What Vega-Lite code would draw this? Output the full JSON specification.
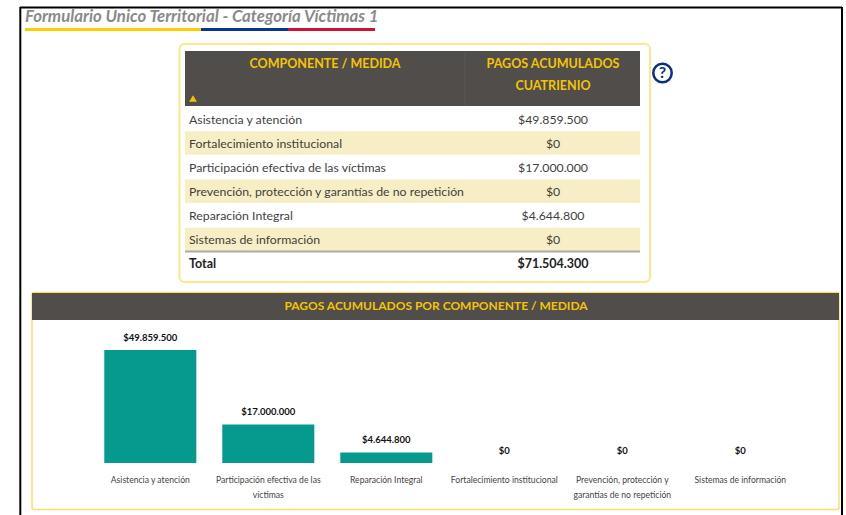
{
"$schema":"https://vega.github.io/schema/vega-lite/v6.json",
"width":846,"height":515,"padding":0,
"autosize":{"type":"fit","contains":"padding"},
"background":"white",
"data":{"name":"marco","values":[{"pieza":"marco"}]},
"datasets":{
"componentes":[
{"componente":"Asistencia y atención","pagos":49859500},
{"componente":"Fortalecimiento institucional","pagos":0},
{"componente":"Participación efectiva de las víctimas","pagos":17000000},
{"componente":"Prevención, protección y garantías de no repetición","pagos":0},
{"componente":"Reparación Integral","pagos":4644800},
{"componente":"Sistemas de información","pagos":0}],
"total":[{"componente":"Total","pagos":71504300}]
},
"config":{
"view":{"stroke":null},
"axisY":{"disable":true},
"axisQuantitative":{"disable":true},
"font":"Lato",
"text":{"font":"Lato"},
"locale":{"number":{"decimal":",","thousands":".","grouping":[3],"currency":["$",""]}}
},
"resolve":{"scale":{"x":"independent","y":"independent"},"axis":{"x":"independent","y":"independent"}},
"layer":[
{"mark":{"type":"text","align":"left","baseline":"middle","fontSize":16.8,"fontStyle":"italic","fontWeight":"bold","color":"#8a8a8a"},
 "encoding":{"text":{"datum":"Formulario Único Territorial - Categoría Víctimas 1"},"x":{"datum":25,"type":"quantitative","scale":{"domain":[0,846],"range":[0,846]}},"y":{"datum":17,"type":"quantitative","scale":{"domain":[0,515],"range":[0,515]}}}},
{"mark":{"type":"rect","fill":"white"},
 "encoding":{"x":{"datum":21,"type":"quantitative","scale":{"domain":[0,846],"range":[0,846]}},"x2":{"datum":841},"y":{"datum":0,"type":"quantitative","scale":{"domain":[0,515],"range":[0,515]}},"y2":{"datum":7.5}}},
{"mark":{"type":"rule","color":"#000000","strokeWidth":2},
 "encoding":{"x":{"datum":20,"type":"quantitative","scale":{"domain":[0,846],"range":[0,846]}},"x2":{"datum":842},"y":{"datum":7.5,"type":"quantitative","scale":{"domain":[0,515],"range":[0,515]}}}},
{"mark":{"type":"rule","color":"#000000","strokeWidth":2},
 "encoding":{"x":{"datum":20.3,"type":"quantitative","scale":{"domain":[0,846],"range":[0,846]}},"y":{"datum":7,"type":"quantitative","scale":{"domain":[0,515],"range":[0,515]}},"y2":{"datum":515}}},
{"mark":{"type":"rule","color":"#000000","strokeWidth":2},
 "encoding":{"x":{"datum":842,"type":"quantitative","scale":{"domain":[0,846],"range":[0,846]}},"y":{"datum":7,"type":"quantitative","scale":{"domain":[0,515],"range":[0,515]}},"y2":{"datum":515}}},
{"mark":{"type":"rect","fill":"#ffcd00"},
 "encoding":{"x":{"datum":25,"type":"quantitative","scale":{"domain":[0,846],"range":[0,846]}},"x2":{"datum":201},"y":{"datum":28,"type":"quantitative","scale":{"domain":[0,515],"range":[0,515]}},"y2":{"datum":31}}},
{"mark":{"type":"rect","fill":"#003893"},
 "encoding":{"x":{"datum":201,"type":"quantitative","scale":{"domain":[0,846],"range":[0,846]}},"x2":{"datum":288},"y":{"datum":28,"type":"quantitative","scale":{"domain":[0,515],"range":[0,515]}},"y2":{"datum":31}}},
{"mark":{"type":"rect","fill":"#ce1138"},
 "encoding":{"x":{"datum":288,"type":"quantitative","scale":{"domain":[0,846],"range":[0,846]}},"x2":{"datum":375},"y":{"datum":28,"type":"quantitative","scale":{"domain":[0,515],"range":[0,515]}},"y2":{"datum":31}}},
{"mark":{"type":"rect","fill":"white","stroke":"#ffe68c","strokeWidth":2,"cornerRadius":5},
 "encoding":{"x":{"datum":179.5,"type":"quantitative","scale":{"domain":[0,846],"range":[0,846]}},"x2":{"datum":650},"y":{"datum":44,"type":"quantitative","scale":{"domain":[0,515],"range":[0,515]}},"y2":{"datum":282}}},
{"mark":{"type":"rect","fill":"#504d4b"},
 "encoding":{"x":{"datum":185,"type":"quantitative","scale":{"domain":[0,846],"range":[0,846]}},"x2":{"datum":640},"y":{"datum":51,"type":"quantitative","scale":{"domain":[0,515],"range":[0,515]}},"y2":{"datum":106}}},
{"mark":{"type":"rule","color":"#5c5957","strokeWidth":1},
 "encoding":{"x":{"datum":465,"type":"quantitative","scale":{"domain":[0,846],"range":[0,846]}},"y":{"datum":51,"type":"quantitative","scale":{"domain":[0,515],"range":[0,515]}},"y2":{"datum":106}}},
{"mark":{"type":"text","align":"center","baseline":"middle","fontSize":12.5,"fontWeight":"bold","color":"#f5c400"},
 "encoding":{"text":{"datum":"COMPONENTE / MEDIDA"},"x":{"datum":325,"type":"quantitative","scale":{"domain":[0,846],"range":[0,846]}},"y":{"datum":63.5,"type":"quantitative","scale":{"domain":[0,515],"range":[0,515]}}}},
{"mark":{"type":"text","align":"center","baseline":"middle","fontSize":12.5,"fontWeight":"bold","color":"#f5c400"},
 "encoding":{"text":{"datum":"PAGOS ACUMULADOS"},"x":{"datum":553,"type":"quantitative","scale":{"domain":[0,846],"range":[0,846]}},"y":{"datum":63.5,"type":"quantitative","scale":{"domain":[0,515],"range":[0,515]}}}},
{"mark":{"type":"text","align":"center","baseline":"middle","fontSize":12.5,"fontWeight":"bold","color":"#f5c400"},
 "encoding":{"text":{"datum":"CUATRIENIO"},"x":{"datum":553,"type":"quantitative","scale":{"domain":[0,846],"range":[0,846]}},"y":{"datum":85.5,"type":"quantitative","scale":{"domain":[0,515],"range":[0,515]}}}},
{"mark":{"type":"point","shape":"triangle-up","filled":true,"size":60,"color":"#f5c400","opacity":1},
 "encoding":{"x":{"datum":193,"type":"quantitative","scale":{"domain":[0,846],"range":[0,846]}},"y":{"datum":98.5,"type":"quantitative","scale":{"domain":[0,515],"range":[0,515]}}}},
{"mark":{"type":"point","shape":"circle","filled":false,"size":340,"color":"#0b2f7f","strokeWidth":2.5,"opacity":1},
 "encoding":{"x":{"datum":662.5,"type":"quantitative","scale":{"domain":[0,846],"range":[0,846]}},"y":{"datum":73,"type":"quantitative","scale":{"domain":[0,515],"range":[0,515]}}}},
{"mark":{"type":"text","align":"center","baseline":"middle","fontSize":16,"fontWeight":"bold","color":"#0b2f7f"},
 "encoding":{"text":{"datum":"?"},"x":{"datum":662.5,"type":"quantitative","scale":{"domain":[0,846],"range":[0,846]}},"y":{"datum":73,"type":"quantitative","scale":{"domain":[0,515],"range":[0,515]}}}},
{"data":{"name":"componentes"},
 "transform":[{"filter":{"field":"componente","oneOf":["Fortalecimiento institucional","Prevención, protección y garantías de no repetición","Sistemas de información"]}}],
 "mark":{"type":"rect","fill":"#f8eec6"},
 "encoding":{"x":{"datum":185,"type":"quantitative","scale":{"domain":[0,846],"range":[0,846]}},"x2":{"datum":640},
 "y":{"field":"componente","type":"nominal","sort":null,"scale":{"domain":["Asistencia y atención","Fortalecimiento institucional","Participación efectiva de las víctimas","Prevención, protección y garantías de no repetición","Reparación Integral","Sistemas de información","Total"],"range":[107,275.5],"paddingInner":0.02,"paddingOuter":0}}}},
{"data":{"name":"componentes"},
 "mark":{"type":"text","align":"left","baseline":"middle","dy":1,"fontSize":12.3,"color":"#3f3f3f"},
 "encoding":{"text":{"field":"componente"},"x":{"datum":189,"type":"quantitative","scale":{"domain":[0,846],"range":[0,846]}},
 "y":{"field":"componente","type":"nominal","sort":null,"scale":{"domain":["Asistencia y atención","Fortalecimiento institucional","Participación efectiva de las víctimas","Prevención, protección y garantías de no repetición","Reparación Integral","Sistemas de información","Total"],"range":[107,275.5],"paddingInner":0,"paddingOuter":0}}}},
{"data":{"name":"componentes"},
 "mark":{"type":"text","align":"center","baseline":"middle","dy":1,"fontSize":12.3,"color":"#3f3f3f"},
 "encoding":{"text":{"field":"pagos","type":"quantitative","format":"$,.0f"},"x":{"datum":553,"type":"quantitative","scale":{"domain":[0,846],"range":[0,846]}},
 "y":{"field":"componente","type":"nominal","sort":null,"scale":{"domain":["Asistencia y atención","Fortalecimiento institucional","Participación efectiva de las víctimas","Prevención, protección y garantías de no repetición","Reparación Integral","Sistemas de información","Total"],"range":[107,275.5],"paddingInner":0,"paddingOuter":0}}}},
{"mark":{"type":"rule","color":"#aaaaaa","strokeWidth":2},
 "encoding":{"x":{"datum":185,"type":"quantitative","scale":{"domain":[0,846],"range":[0,846]}},"x2":{"datum":640},"y":{"datum":251.5,"type":"quantitative","scale":{"domain":[0,515],"range":[0,515]}}}},
{"data":{"name":"total"},
 "mark":{"type":"text","align":"left","baseline":"middle","fontSize":12.5,"fontWeight":"bold","color":"#222222"},
 "encoding":{"text":{"field":"componente"},"x":{"datum":189,"type":"quantitative","scale":{"domain":[0,846],"range":[0,846]}},
 "y":{"field":"componente","type":"nominal","scale":{"domain":["Total"],"range":[252,275.5],"paddingInner":0,"paddingOuter":0}}}},
{"data":{"name":"total"},
 "mark":{"type":"text","align":"center","baseline":"middle","fontSize":12.5,"fontWeight":"bold","color":"#222222"},
 "encoding":{"text":{"field":"pagos","type":"quantitative","format":"$,.0f"},"x":{"datum":553,"type":"quantitative","scale":{"domain":[0,846],"range":[0,846]}},
 "y":{"field":"componente","type":"nominal","scale":{"domain":["Total"],"range":[252,275.5],"paddingInner":0,"paddingOuter":0}}}},
{"mark":{"type":"rect","fill":"white","stroke":"#ffdc6e","strokeWidth":1.5,"cornerRadius":2},
 "encoding":{"x":{"datum":32,"type":"quantitative","scale":{"domain":[0,846],"range":[0,846]}},"x2":{"datum":839},"y":{"datum":292.5,"type":"quantitative","scale":{"domain":[0,515],"range":[0,515]}},"y2":{"datum":509.5}}},
{"mark":{"type":"rect","fill":"#504d4b"},
 "encoding":{"x":{"datum":32,"type":"quantitative","scale":{"domain":[0,846],"range":[0,846]}},"x2":{"datum":839},"y":{"datum":293,"type":"quantitative","scale":{"domain":[0,515],"range":[0,515]}},"y2":{"datum":320}}},
{"mark":{"type":"text","align":"center","baseline":"middle","fontSize":12,"fontWeight":"bold","color":"#f5c400"},
 "encoding":{"text":{"datum":"PAGOS ACUMULADOS POR COMPONENTE / MEDIDA"},"x":{"datum":436,"type":"quantitative","scale":{"domain":[0,846],"range":[0,846]}},"y":{"datum":306,"type":"quantitative","scale":{"domain":[0,515],"range":[0,515]}}}},
{"data":{"name":"componentes"},
 "mark":{"type":"bar","color":"#069a8e"},
 "encoding":{
 "x":{"field":"componente","type":"nominal","sort":["Asistencia y atención","Participación efectiva de las víctimas","Reparación Integral","Fortalecimiento institucional","Prevención, protección y garantías de no repetición","Sistemas de información"],
  "scale":{"range":[91.3,799.3],"paddingInner":0.22,"paddingOuter":0.11},
  "axis":{"title":null,"orient":"bottom","offset":-39,"zindex":1,"domain":false,"ticks":false,"grid":false,"labelAngle":0,"labelAlign":"center","labelBaseline":"top","labelFontSize":8.6,"labelColor":"#444444","labelFont":"Lato","labelPadding":0,"labelLimit":0,"labelLineHeight":15,"labelOverlap":false,
  "labelExpr":"datum.label == 'Participación efectiva de las víctimas' ? ['Participación efectiva de las','víctimas'] : datum.label == 'Prevención, protección y garantías de no repetición' ? ['Prevención, protección y','garantías de no repetición'] : datum.label"}},
 "y":{"field":"pagos","type":"quantitative","scale":{"domain":[0,49859500],"range":[463,350],"nice":false,"zero":true}}}},
{"data":{"name":"componentes"},
 "mark":{"type":"text","align":"center","baseline":"middle","dy":-12,"fontSize":9.5,"fontWeight":"bold","color":"#111111"},
 "encoding":{"text":{"field":"pagos","type":"quantitative","format":"$,.0f"},
 "x":{"field":"componente","type":"nominal","axis":null,"sort":["Asistencia y atención","Participación efectiva de las víctimas","Reparación Integral","Fortalecimiento institucional","Prevención, protección y garantías de no repetición","Sistemas de información"],
  "scale":{"range":[91.3,799.3],"paddingInner":0.22,"paddingOuter":0.11}},
 "y":{"field":"pagos","type":"quantitative","scale":{"domain":[0,49859500],"range":[463,350],"nice":false,"zero":true}}}}
]
}
